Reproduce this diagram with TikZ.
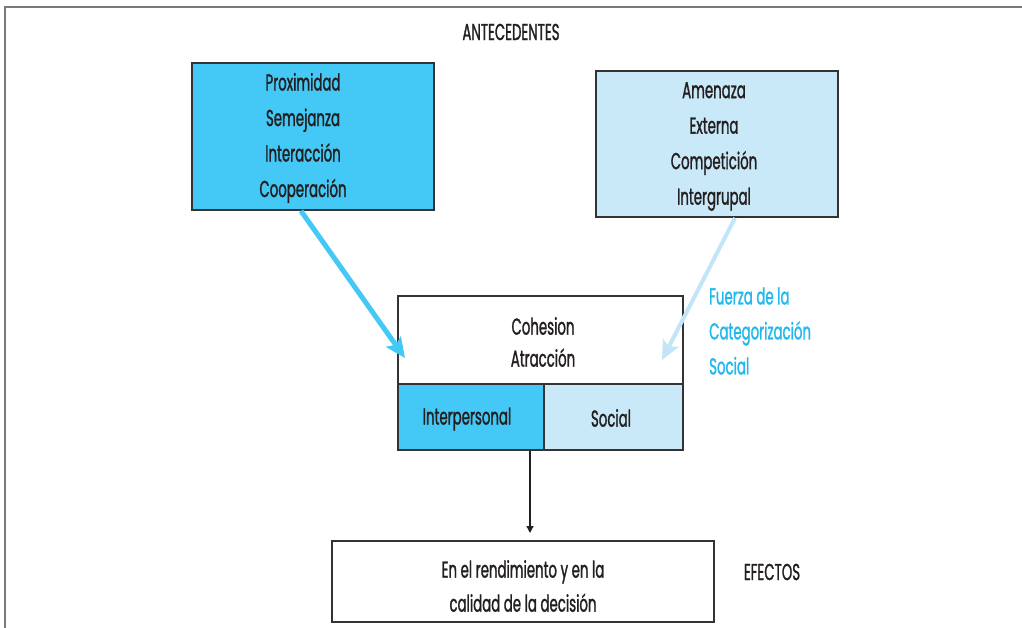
\documentclass[tikz,border=0pt]{standalone}
\usepackage{fontspec}
\setmainfont{Poppins}[FakeStretch=0.58,FakeBold=1.2]
\usetikzlibrary{arrows.meta,calc}
\definecolor{cyanbox}{HTML}{44C8F5}
\definecolor{palebox}{HTML}{C9E9F9}
\definecolor{palearrow}{HTML}{C2E5F7}
\definecolor{cyantext}{HTML}{22B8EC}
\definecolor{edge}{HTML}{333333}
\definecolor{frameline}{HTML}{7A7A7A}
\definecolor{ink}{HTML}{231F20}
\tikzset{
  box/.style={draw=edge, line width=1.4pt, rectangle, inner sep=0pt, anchor=center},
  txt/.style={text=ink, align=center, inner sep=0pt, font=\fontsize{23}{35.5}\selectfont},
  side/.style={text=cyantext, align=left, inner sep=0pt, anchor=west, font=\fontsize{23}{35}\selectfont},
}
\begin{document}
\begin{tikzpicture}[x=1pt,y=-1pt]
\useasboundingbox (0,0) rectangle (1022,628);
% outer frame (top and left edges)
\draw[frameline, line width=1.6pt] (5,628) -- (5,7) -- (1022,7);

\node[txt] (ante) at (511,32) {ANTECEDENTES};

% antecedent boxes
\node[box, fill=cyanbox, minimum width=242pt, minimum height=147pt] (prox) at (313,136.5) {};
\node[txt] (proxt) at (303,138) {Proximidad\\Semejanza\\Interacción\\Cooperación};
\node[box, fill=palebox, minimum width=242pt, minimum height=146pt] (amen) at (717,144) {};
\node[txt] (ament) at (714,146.5) {Amenaza\\Externa\\Competición\\Intergrupal};

% cohesion block
\node[box, fill=white, minimum width=285pt, minimum height=88pt] (coh) at (540.5,340) {};
\node[txt, font=\fontsize{23}{32}\selectfont] (coht) at (543,342) {Cohesion\\Atracción};
\node[box, fill=cyanbox, minimum width=146pt, minimum height=66pt] (inter) at (471,417) {};
\node[txt] (intert) at (467,419) {Interpersonal};
\node[box, fill=palebox, minimum width=139pt, minimum height=66pt] (soc) at (613.5,417) {};
\node[txt] (soct) at (611,418) {Social};

% effects
\node[box, fill=white, minimum width=382pt, minimum height=81pt] (efe) at (523,581.5) {};
\node[txt, font=\fontsize{23}{34}\selectfont] (efet) at (523,586) {En el rendimiento y en la\\calidad de la decisión};
\node[txt] (efl) at (772,572) {EFECTOS};

\node[side] (fuerza) at (709,331) {Fuerza de la\\Categorización\\Social};

% connectors
\coordinate (s1) at (301,211);
\coordinate (t1) at (405,358);
\coordinate (s2) at (735,218);
\coordinate (t2) at (662,360);
\draw[cyanbox, line width=5pt, -{Stealth[length=20pt,width=18pt,inset=4pt]}] (s1) -- (t1);
\draw[palearrow, line width=4pt, -{Stealth[length=19pt,width=17pt,inset=4pt]}] (s2) -- (t2);
\draw[ink, line width=1.2pt, -{Triangle[length=7pt,width=7pt]}] (inter.south -| 530,0) -- (530,533);
\end{tikzpicture}
\end{document}
